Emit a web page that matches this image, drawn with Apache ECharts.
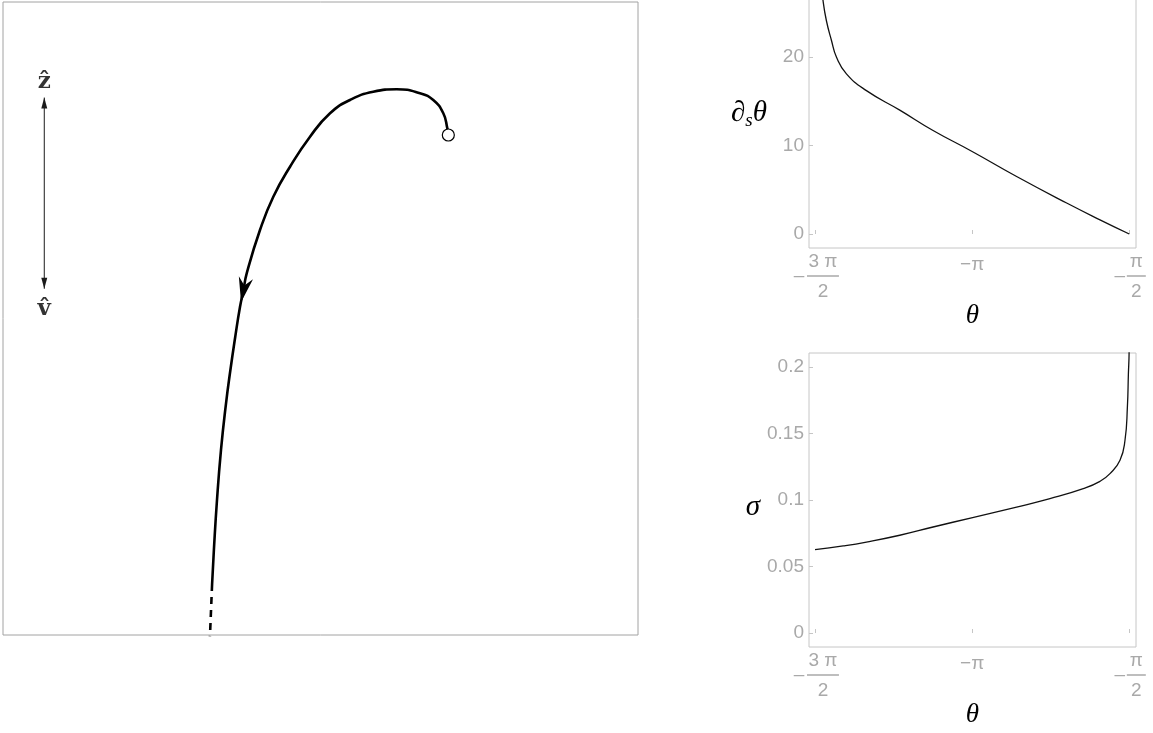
<!DOCTYPE html>
<html>
<head>
<meta charset="utf-8">
<script src="https://cdn.jsdelivr.net/npm/echarts@6/dist/echarts.min.js"></script>
<style>
  html, body { margin: 0; padding: 0; background: #fff; }
  #chart { width: 1153px; height: 733px; }
</style>
</head>
<body>
<div id="chart"></div>
<script>
// ---- Trajectory in the (x, z) plane, starting at the open circle ----
const trajectory = [
  [7.013, 7.899], [6.997, 8.005], [6.934, 8.242], [6.776, 8.452], [6.567, 8.558], [6.200, 8.621],
  [5.831, 8.583], [5.465, 8.452], [5.150, 8.242], [4.835, 7.872], [4.520, 7.398], [4.257, 6.924],
  [4.047, 6.398], [3.838, 5.714], [3.787, 5.450], [3.732, 5.182], [3.657, 4.708], [3.581, 4.186],
  [3.509, 3.633], [3.433, 2.923], [3.370, 2.133], [3.321, 1.343], [3.293, 0.806]
];
// continuation beyond the computed range (dashed)
const tail = [[3.293, 0.806], [3.260, 0.000], [3.255, -0.080]];
// index of the trajectory point carrying the direction arrow
const ARROW_AT = 14;

// ---- Orientation key: z-hat / v-hat double arrow ----
const keyArrowEnds = [[0.65, 8.49], [0.65, 5.47]];
const keyLabels = [
  { text: 'z\u0302', at: [0.65, 8.74] },
  { text: 'v\u0302', at: [0.65, 5.15] }
];

// ---- d_s theta versus theta ----
const thetaA = [-4.660, -4.632, -4.598, -4.548, -4.498, -4.398, -4.198, -3.865, -3.532, -3.137, -2.697, -2.197, -1.864, -1.571];
const dsTheta = [29.5, 26.4, 24.1, 21.9, 20.0, 18.1, 16.2, 14.0, 11.7, 9.3, 6.5, 3.5, 1.6, 0.0];

// ---- sigma versus theta ----
const thetaB = [-4.712, -4.430, -4.198, -3.865, -3.532, -3.137, -2.697, -2.364, -2.031, -1.864, -1.764, -1.664, -1.614, -1.590, -1.580, -1.573, -1.571];
const sigma  = [0.0627, 0.0655, 0.0684, 0.0735, 0.0797, 0.0868, 0.0947, 0.1010, 0.1085, 0.1140, 0.1198, 0.1298, 0.1449, 0.170, 0.195, 0.2105, 0.24];

// ---- tick positions ----
const PI = Math.PI;
const thetaTicks = [-3 * PI / 2, -PI, -PI / 2];
const dsTicks = [0, 10, 20];
const sigmaTicks = [0, 0.05, 0.1, 0.15, 0.2];

const GRAY_TEXT = '#a9a9a9';
const GRAY_FRAME = '#c6c6c6';
const SANS = '"Liberation Sans", Arial, sans-serif';
const SERIF = '"Liberation Serif", "Times New Roman", serif';
const FS = 19;

const zip = (xs, ys) => xs.map((x, i) => [x, ys[i]]);

// direction of travel at the arrow point (screen angle, degrees)
const prev = trajectory[ARROW_AT - 1], next = trajectory[ARROW_AT + 1];
const arrowRotate = Math.atan2(next[0] - prev[0], -(next[1] - prev[1])) * 180 / PI;

function thetaLabel(v) {
  if (Math.abs(v + PI) < 1e-6) return '{pi|\u2212\u03c0}';
  if (Math.abs(v + 3 * PI / 2) < 1e-6) return '{spA|}{num|3 \u03c0}\n{miA|\u2013}{barA|}\n{spA|}{den|2}';
  return '{spB|}{num|\u03c0}\n{miB|\u2013}{barB|}\n{spB|}{den|2}';
}
const thetaRich = {
  pi:   { fontFamily: SANS, fontSize: FS, color: GRAY_TEXT, lineHeight: 26 },
  num:  { fontFamily: SANS, fontSize: FS, color: GRAY_TEXT, lineHeight: 20 },
  den:  { fontFamily: SANS, fontSize: FS, color: GRAY_TEXT, lineHeight: 24 },
  spA:  { width: 16, lineHeight: 8 },
  miA:  { width: 16, fontFamily: SANS, fontSize: FS, color: GRAY_TEXT, lineHeight: 8 },
  barA: { width: 32, height: 1.5, backgroundColor: GRAY_TEXT, lineHeight: 8 },
  spB:  { width: 14, lineHeight: 8 },
  miB:  { width: 14, fontFamily: SANS, fontSize: FS, color: GRAY_TEXT, lineHeight: 8 },
  barB: { width: 19, height: 1.5, backgroundColor: GRAY_TEXT, lineHeight: 8 }
};

function thetaAxis(gridIndex, gap) {
  return {
    gridIndex, type: 'value', min: -4.772, max: -1.504,
    axisLine: { show: false },
    splitLine: { show: false },
    axisTick: { show: true, inside: true, length: 4, customValues: thetaTicks, lineStyle: { color: GRAY_FRAME } },
    axisLabel: { show: true, customValues: thetaTicks, margin: 4, formatter: thetaLabel, rich: thetaRich },
    name: '\u03b8', nameLocation: 'middle', nameGap: gap,
    nameTextStyle: { fontFamily: SERIF, fontStyle: 'italic', fontSize: 27, color: '#000', verticalAlign: 'middle' }
  };
}
function valueAxis(gridIndex, min, max, ticks, name, gap, rich) {
  return {
    gridIndex, type: 'value', min, max,
    axisLine: { show: false },
    splitLine: { show: false },
    axisTick: { show: true, inside: true, length: 4, customValues: ticks, lineStyle: { color: GRAY_FRAME } },
    axisLabel: { show: true, customValues: ticks, margin: 5, fontFamily: SANS, fontSize: FS, color: GRAY_TEXT },
    name, nameLocation: 'middle', nameRotate: 0, nameGap: gap,
    nameTextStyle: { fontFamily: SERIF, fontStyle: 'italic', fontSize: 29, color: '#000',
      align: 'center', verticalAlign: 'middle', rich }
  };
}

const chart = echarts.init(document.getElementById('chart'), null, { renderer: 'canvas' });

const gridBase = { show: true, borderWidth: 1, backgroundColor: 'transparent', outerBoundsMode: 'none', containLabel: false };

chart.setOption({
  animation: false,
  backgroundColor: '#fff',
  grid: [
    Object.assign({ left: 3, top: 2, width: 635, height: 633, borderColor: '#a2a2a2' }, gridBase),
    Object.assign({ left: 809, top: -22, width: 327, height: 270, borderColor: GRAY_FRAME }, gridBase),
    Object.assign({ left: 809, top: 353, width: 327, height: 294, borderColor: GRAY_FRAME }, gridBase)
  ],
  xAxis: [
    { gridIndex: 0, type: 'value', min: 0, max: 10, show: false },
    thetaAxis(1, 67),
    thetaAxis(2, 68)
  ],
  yAxis: [
    { gridIndex: 0, type: 'value', min: 0, max: 10, show: false },
    valueAxis(1, -1.58, 28.93, dsTicks, '{a|\u2202}{s|s}{a|\u03b8}', 60, {
      a: { fontFamily: SERIF, fontStyle: 'italic', fontSize: 29, color: '#000', lineHeight: 34, verticalAlign: 'middle' },
      s: { fontFamily: SERIF, fontStyle: 'italic', fontSize: 19, color: '#000', lineHeight: 18, verticalAlign: 'bottom' }
    }),
    valueAxis(2, -0.0105, 0.2105, sigmaTicks, '{g|\u03c3}', 56, {
      g: { fontFamily: SERIF, fontStyle: 'italic', fontSize: 29, color: '#000', padding: [14, 0, 0, 0] }
    })
  ],
  series: [
    {
      type: 'line', xAxisIndex: 0, yAxisIndex: 0, data: trajectory,
      smooth: 0.5, showSymbol: false, symbol: 'none',
      lineStyle: { color: '#000', width: 2.6 }, z: 3
    },
    {
      type: 'line', xAxisIndex: 0, yAxisIndex: 0, data: tail,
      showSymbol: false, symbol: 'none',
      lineStyle: { color: '#000', width: 2.6, type: [7, 6] }, z: 3
    },
    {
      type: 'scatter', xAxisIndex: 0, yAxisIndex: 0,
      data: [{ value: trajectory[ARROW_AT], symbolRotate: arrowRotate }],
      symbol: 'path://M0,0 L9.5,8 L19,0 L9.5,25 Z', symbolSize: [19, 25], symbolKeepAspect: true,
      itemStyle: { color: '#000', opacity: 1 }, z: 5, silent: true
    },
    {
      type: 'scatter', xAxisIndex: 0, yAxisIndex: 0, data: [trajectory[0]],
      symbol: 'circle', symbolSize: 12,
      itemStyle: { color: '#fff', borderColor: '#000', borderWidth: 1.2, opacity: 1 }, z: 6, silent: true
    },
    {
      type: 'line', xAxisIndex: 0, yAxisIndex: 0, data: keyArrowEnds,
      showSymbol: false, symbol: 'none',
      lineStyle: { color: '#1a1a1a', width: 1 }, z: 3
    },
    {
      type: 'scatter', xAxisIndex: 0, yAxisIndex: 0,
      data: [
        { value: keyArrowEnds[0], symbol: 'path://M3,0 L6,11 L0,11 Z', symbolOffset: [0, '50%'] },
        { value: keyArrowEnds[1], symbol: 'path://M0,0 L6,0 L3,11 Z', symbolOffset: [0, '-50%'] }
      ],
      symbolSize: [6, 11],
      itemStyle: { color: '#1a1a1a', opacity: 1 }, z: 4, silent: true
    },
    {
      type: 'scatter', xAxisIndex: 0, yAxisIndex: 0,
      data: keyLabels.map(d => ({ value: d.at, name: d.text })),
      symbolSize: 0,
      label: {
        show: true, position: 'inside', formatter: '{b}',
        fontFamily: '"DejaVu Serif", serif', fontWeight: 'bold', fontSize: 23, color: '#000'
      },
      z: 4, silent: true
    },
    {
      type: 'line', xAxisIndex: 1, yAxisIndex: 1, data: zip(thetaA, dsTheta),
      smooth: 0.5, showSymbol: false, symbol: 'none',
      lineStyle: { color: '#111', width: 1.3 }, z: 3
    },
    {
      type: 'line', xAxisIndex: 2, yAxisIndex: 2, data: zip(thetaB, sigma),
      smooth: 0.5, showSymbol: false, symbol: 'none',
      lineStyle: { color: '#111', width: 1.3 }, z: 3
    }
  ]
});
</script>
</body>
</html>
